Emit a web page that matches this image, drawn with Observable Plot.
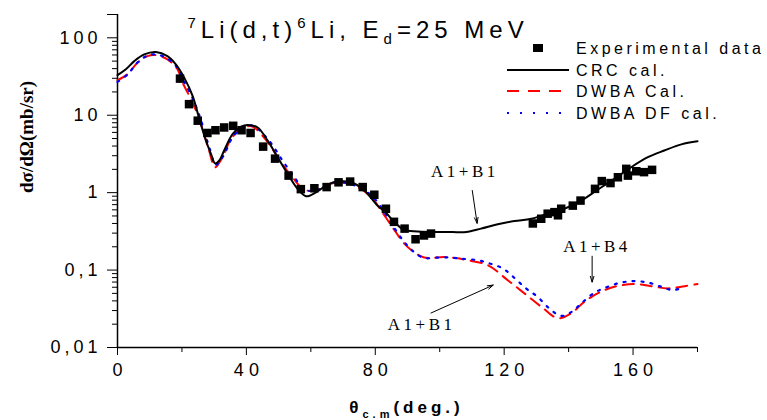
<!DOCTYPE html>
<html><head><meta charset="utf-8">
<script src="https://cdn.jsdelivr.net/npm/d3@7"></script>
<script src="https://cdn.jsdelivr.net/npm/@observablehq/plot@0.6"></script>
<style>body{margin:0;background:#fff} svg{display:block}</style>
</head><body><div id="chart"></div>
<script>
// ---- data ----
const expAngle = [19.4,22.2,24.9,27.9,30.4,33.1,35.9,38.5,41.3,45.2,48.9,53.1,56.9,61.1,64.9,68.6,72.2,76.1,79.7,83.3,85.8,89.1,92.5,95.1,97.3,
  128.9,131.5,133.5,135.6,136.7,137.7,141.3,143.7,148.2,150.3,153.0,155.3,157.9,158.4,161.0,163.4,165.9];
const expSigma = [29.7,13.9,8.5,5.9,6.4,6.95,7.3,6.4,5.9,3.93,2.75,1.66,1.11,1.14,1.18,1.36,1.39,1.18,0.94,0.62,0.42,0.343,0.25,0.28,0.296,
  0.40,0.46,0.535,0.56,0.51,0.62,0.68,0.79,1.12,1.41,1.33,1.58,2.03,1.66,1.89,1.84,1.97];

const crcAngle = [0,2.6,5.2,8.3,11.9,15.5,18.1,20.7,23.3,25.4,27.1,29.0,30.3,31.6,33.1,35.7,38.3,40.4,43.5,46.6,49.7,52.8,55.9,58.5,61.6,65.2,68.8,72.5,76.6,80.7,83.3,85.9,89.0,93.2,99.4,104.0,108.2,112.8,118.0,123.2,128.4,133.5,138.7,143.9,149.0,154.2,159.4,164.6,169.7,175.0,180.0];
const crcSigma = [33,39.3,50,61,65.5,58,45.5,30.6,17.8,8.9,5.2,3.16,2.39,2.6,3.5,5.7,7.1,7.5,6.95,4.7,2.87,1.75,1.12,0.9,1.01,1.27,1.4,1.36,1.07,0.68,0.55,0.42,0.33,0.316,0.31,0.31,0.31,0.343,0.39,0.43,0.46,0.535,0.62,0.79,1.09,1.51,2.13,2.87,3.5,4.2,4.6];

const dwbaAngle = [0,3.1,6.2,9.3,11.9,15.5,18.6,20.2,22.8,25.4,28.4,30.3,32.6,35.2,38.3,41.6,46.6,50.7,54.3,56.9,59.5,62.0,65.2,69.3,74.5,78.7,82.8,85.9,89.0,92.1,95.2,101.4,105.0,108.7,114.9,121.1,126.3,131.5,136.7,140.8,144.9,149.0,154.2,160.4,165.6,170.8,176.0,180.0];
const dwbaSigma = [28.3,33.8,47.6,58,59.8,52.7,39.3,26.4,16.1,8.9,3.5,2.13,2.87,4.93,6.6,7.2,4.5,2.47,1.58,1.18,1.05,1.1,1.27,1.36,1.18,0.875,0.51,0.33,0.22,0.17,0.145,0.147,0.143,0.134,0.116,0.074,0.05,0.0337,0.0239,0.0277,0.039,0.05,0.061,0.066,0.062,0.058,0.062,0.066];

const dfAngle = [0,3.1,6.2,9.3,11.9,15.5,18.6,20.5,23.2,25.8,28.6,30.5,32.9,35.6,38.8,42.0,47.0,51.2,54.8,57.5,60.0,62.5,65.5,69.5,75.0,79.3,83.3,86.3,89.4,92.5,95.2,99.0,103.5,107.0,111.8,115.4,119.6,123.2,126.8,130.4,134.0,137.7,141.0,143.9,148.0,152.2,156.3,160.4,164.6,168.7,172.4,176.0];
const dfSigma = [27,33.5,48,59,61,54,41,28,17,8.9,3.7,2.3,3.0,5.1,6.9,7.3,4.7,2.6,1.6,1.15,1.05,1.1,1.25,1.36,1.17,0.88,0.52,0.33,0.22,0.165,0.143,0.145,0.145,0.14,0.134,0.122,0.105,0.079,0.058,0.045,0.032,0.0256,0.029,0.037,0.051,0.061,0.069,0.072,0.069,0.061,0.055,0.061];

const xTickMajor = [0,40,80,120,160];
const xTickMinor = [20,60,100,140,180];
const yTickMajor = [0.01,0.1,1,10,100,200];
const yTickLabels = ["0,01","0,1","1","10","100",""];
const yTickMinor = [0.02,0.03,0.04,0.05,0.06,0.07,0.08,0.09,0.2,0.3,0.4,0.5,0.6,0.7,0.8,0.9,2,3,4,5,6,7,8,9,20,30,40,50,60,70,80,90];

const titleText = "7Li(d,t)6Li, Ed=25 MeV";
const yTitle = "dσ/dΩ(mb/sr)";
const xTitle = "θc.m(deg.)";
const legendLabels = ["Experimental data","CRC cal.","DWBA Cal.","DWBA DF cal."];

const annotText = ["A1+B1","A1+B4","A1+B1"];
const annotX = [97.3,138.3,83.9];
const annotY = [1.58,0.172,0.0169];
const arrowX1 = [110.1,147.3,97.3];
const arrowY1 = [1.066,0.151,0.0279];
const arrowX2 = [111.6,147.3,116.6];
const arrowY2 = [0.402,0.070,0.064];

// ---- tables ----
const exp = expAngle.map((x,i)=>({x, y: expSigma[i]}));
const crc = crcAngle.map((x,i)=>({x, y: crcSigma[i]}));
const dwba = dwbaAngle.map((x,i)=>({x, y: dwbaSigma[i]}));
const df = dfAngle.map((x,i)=>({x, y: dfSigma[i]}));
const annots = annotText.map((t,i)=>({t, x: annotX[i], y: annotY[i]}));
const arrows = arrowX1.map((x,i)=>({x1:x, y1:arrowY1[i], x2:arrowX2[i], y2:arrowY2[i]}));
const yLabelMap = new Map(yTickMajor.map((v,i)=>[v, yTickLabels[i]]));

const SANS = "'Liberation Sans', Arial, sans-serif";
const SERIF = "'Liberation Serif', 'Times New Roman', serif";

const chart = Plot.plot({
  width: 767, height: 420,
  marginLeft: 117, marginRight: 70, marginTop: 14, marginBottom: 73,
  x: {domain: [0,180], label: null},
  y: {type: "log", domain: [0.01,200], label: null},
  style: {fontFamily: SANS, background: "#fff", color: "#000", overflow: "visible"},
  marks: [
    Plot.axisY({ticks: yTickMinor, tickSize: 5, tickFormat: () => "", label: null, strokeWidth: 1}),
    Plot.axisY({ticks: yTickMajor, tickSize: 10, tickPadding: 6, tickFormat: d => yLabelMap.get(d), fontSize: 18, label: null, strokeWidth: 1}),
    Plot.axisX({ticks: xTickMinor, tickSize: 5, tickFormat: () => "", label: null, strokeWidth: 1}),
    Plot.axisX({ticks: xTickMajor, tickSize: 8, tickPadding: 8, fontSize: 18, label: null, strokeWidth: 1}),
    Plot.ruleX([0], {strokeWidth: 1.5}),
    Plot.ruleY([0.01], {strokeWidth: 1.5}),
    Plot.line(dwba, {x: "x", y: "y", stroke: "#ff0000", strokeWidth: 2, strokeDasharray: "11,7", curve: "catmull-rom"}),
    Plot.line(df, {x: "x", y: "y", stroke: "#0000ff", strokeWidth: 2.2, strokeDasharray: "2,7", curve: "catmull-rom"}),
    Plot.line(crc, {x: "x", y: "y", stroke: "#000", strokeWidth: 2, curve: "catmull-rom"}),
    Plot.dot(exp, {x: "x", y: "y", symbol: "square", r: 4.8, fill: "#000", stroke: "none"}),
    Plot.text(annots, {x: "x", y: "y", text: "t", textAnchor: "start", lineAnchor: "bottom", fontFamily: SERIF, fontSize: 17}),
    Plot.arrow(arrows, {x1: "x1", y1: "y1", x2: "x2", y2: "y2", stroke: "#000", strokeWidth: 1, headLength: 9, headAngle: 35}),
    Plot.text([yTitle], {frameAnchor: "left", dx: -91, dy: 12, rotate: -90, fontFamily: SERIF, fontWeight: "bold", fontSize: 19}),
    Plot.text([xTitle], {frameAnchor: "bottom", dx: -1, dy: 65, lineAnchor: "bottom", fontWeight: "bold", fontSize: 17}),
    Plot.text([titleText], {frameAnchor: "top-left", dx: 70, dy: 23, textAnchor: "start", lineAnchor: "bottom", fontSize: 24})
  ]
});
document.getElementById("chart").appendChild(chart);

const svg = d3.select(chart);
// letter spacing like the original
svg.selectAll("g[aria-label='y-axis tick label'] text").style("letter-spacing", "4px");
svg.selectAll("g[aria-label='x-axis tick label'] text").style("letter-spacing", "5px").attr("dx", 2.5);

svg.selectAll("text").each(function() {
  const t = d3.select(this);
  const s = this.textContent;
  if (s === titleText) {
    t.text(null).style("letter-spacing", "5px");
    t.append("tspan").attr("font-size", 15).attr("dy", -10).text("7");
    t.append("tspan").attr("dy", 10).text("Li(d,t)");
    t.append("tspan").attr("font-size", 15).attr("dy", -10).text("6");
    t.append("tspan").attr("dy", 10).text("Li, E");
    t.append("tspan").attr("font-size", 15).attr("dy", 6).text("d");
    t.append("tspan").attr("dy", -6).text("=25 MeV");
  } else if (s === xTitle) {
    t.text(null).style("letter-spacing", "4px");
    t.append("tspan").text("θ");
    t.append("tspan").attr("font-size", 11).attr("dy", 5).text("c.m");
    t.append("tspan").attr("dy", -5).text("(deg.)");
  } else if (annotText.includes(s)) {
    t.style("letter-spacing", "3.5px");
  }
});

// legend
const lg = svg.append("g").attr("font-family", SANS).attr("font-size", 16)
  .attr("text-anchor", "start").style("letter-spacing", "3.5px");
const rowsY = [48, 70, 91, 113];
lg.append("rect").attr("x", 533).attr("y", 44).attr("width", 10).attr("height", 8).attr("fill", "#000");
lg.append("line").attr("x1", 507).attr("x2", 569).attr("y1", rowsY[1]).attr("y2", rowsY[1]).attr("stroke", "#000").attr("stroke-width", 2);
lg.append("line").attr("x1", 507).attr("x2", 563).attr("y1", rowsY[2]).attr("y2", rowsY[2]).attr("stroke", "#ff0000").attr("stroke-width", 2).attr("stroke-dasharray", "12,9");
lg.append("line").attr("x1", 507).attr("x2", 563).attr("y1", rowsY[3]).attr("y2", rowsY[3]).attr("stroke", "#0000ff").attr("stroke-width", 2.2).attr("stroke-dasharray", "2,11");
legendLabels.forEach((l,i) => {
  lg.append("text").attr("x", 576).attr("y", rowsY[i] + 6).attr("text-anchor", "start").text(l);
});
</script>
</body></html>
